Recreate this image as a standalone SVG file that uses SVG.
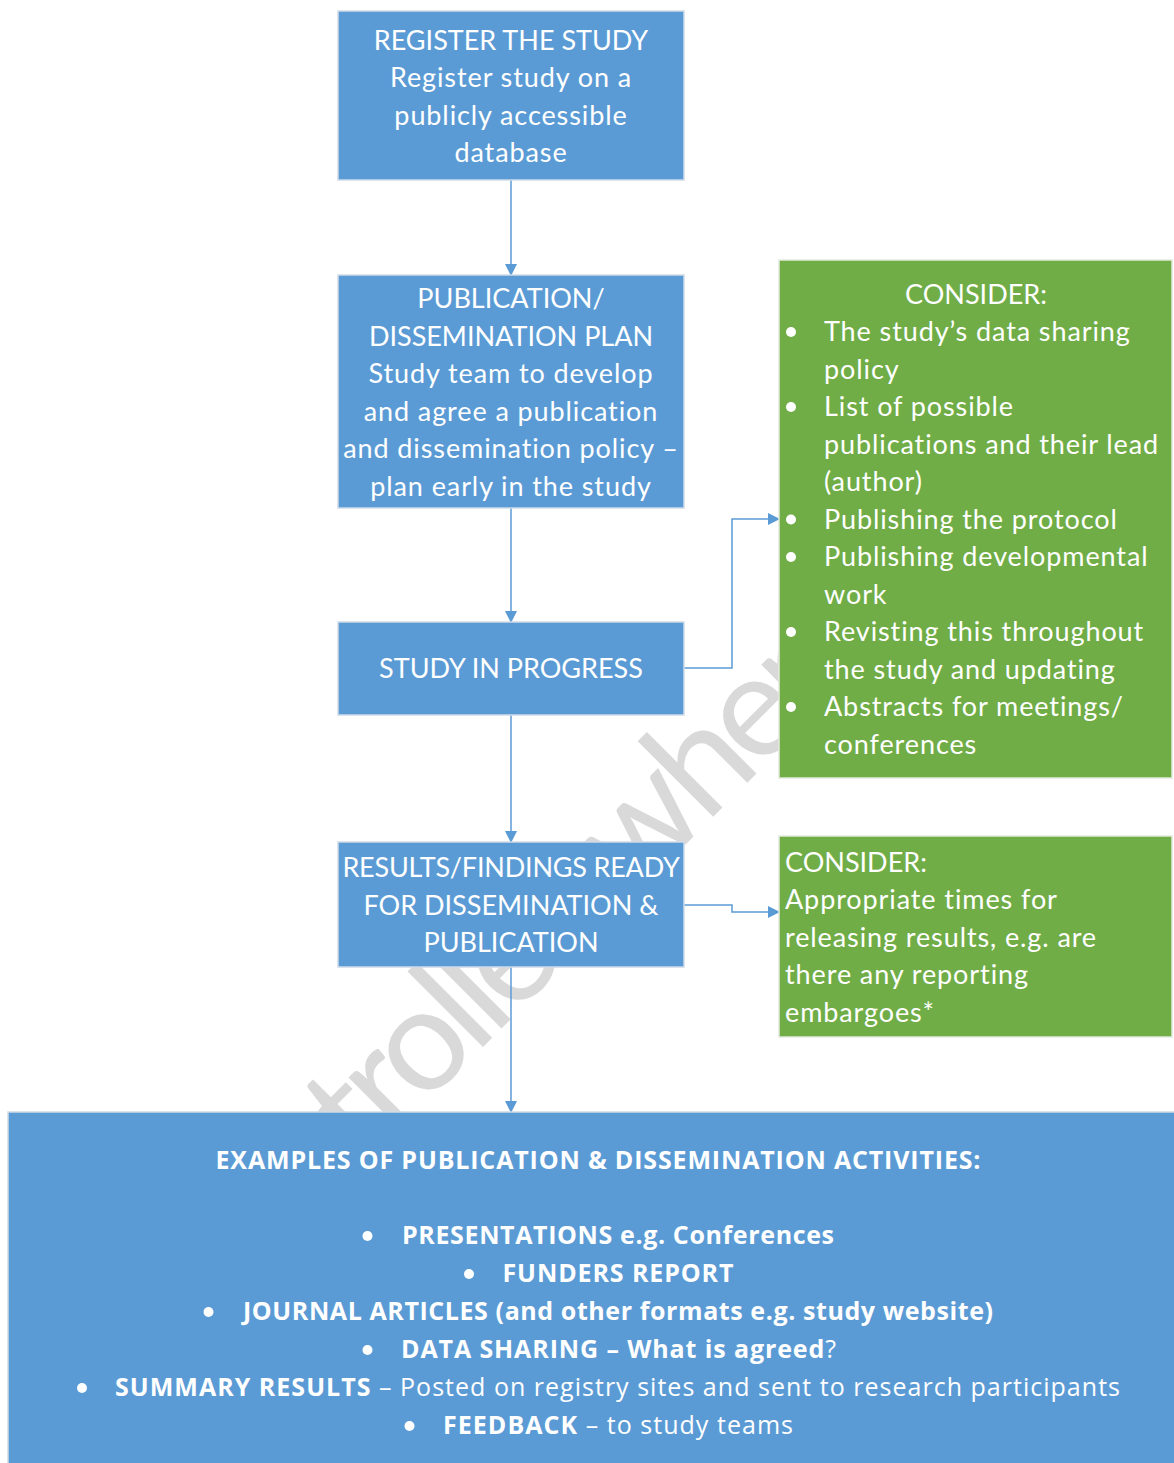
<svg xmlns="http://www.w3.org/2000/svg" width="1174" height="1463" viewBox="0 0 1174 1463">
<defs>
<marker id="arr" markerWidth="12" markerHeight="12" refX="11" refY="6" orient="auto" markerUnits="userSpaceOnUse">
<path d="M0,0 L12,6 L0,12 Z" fill="#5B9BD5"/>
</marker>
<style>
.blue{fill:#5B9BD5;stroke:#cfdbe8;stroke-width:1.5}
.green{fill:#70AD47;stroke:#e2eadb;stroke-width:1.5}
.t{font-family:Lato,"Open Sans","Liberation Sans",sans-serif;font-size:27px;fill:#ffffff}
.ls{letter-spacing:0.9px}
.c{text-anchor:middle}
.b{font-family:"Open Sans",Lato,"Liberation Sans",sans-serif;font-size:25px;fill:#ffffff;font-weight:bold}
.r{font-weight:normal}
.wm{font-family:Lato,"Open Sans","Liberation Sans",sans-serif;font-size:145px;letter-spacing:-8px;fill:#d9d9d9}
.con{fill:none;stroke:#5B9BD5;stroke-width:1.5}
</style>
</defs>
<rect width="1174" height="1463" fill="#ffffff"/>
<g id="watermark">
<text class="wm" transform="translate(765,765) rotate(-45)" x="-945" y="0">Uncontrolled when</text>
</g>
<g id="connectors">
<path class="con" d="M511,180 V275" marker-end="url(#arr)"/>
<path class="con" d="M511,508 V622" marker-end="url(#arr)"/>
<path class="con" d="M511,715 V842" marker-end="url(#arr)"/>
<path class="con" d="M511,967 V1112" marker-end="url(#arr)"/>
<path class="con" d="M684,668 H732 V519 H779" marker-end="url(#arr)"/>
<path class="con" d="M684,905 H732 V912 H779" marker-end="url(#arr)"/>
</g>
<g id="register">
<rect class="blue" x="338" y="11" width="346" height="169"/>
<text class="t c" x="511" y="49.5">REGISTER THE STUDY</text>
<text class="t c ls" x="511" y="87">Register study on a</text>
<text class="t c ls" x="511" y="124.5">publicly accessible</text>
<text class="t c ls" x="511" y="162">database</text>
</g>
<g id="plan">
<rect class="blue" x="338" y="275" width="346" height="233"/>
<text class="t c" x="511" y="308">PUBLICATION/</text>
<text class="t c" x="511" y="345.5">DISSEMINATION PLAN</text>
<text class="t c ls" x="511" y="383">Study team to develop</text>
<text class="t c ls" x="511" y="420.5">and agree a publication</text>
<text class="t c ls" x="511" y="458">and dissemination policy –</text>
<text class="t c ls" x="511" y="495.5">plan early in the study</text>
</g>
<g id="progress">
<rect class="blue" x="338" y="622" width="346" height="93"/>
<text class="t c" x="511" y="678">STUDY IN PROGRESS</text>
</g>
<g id="results">
<rect class="blue" x="338" y="842" width="346" height="125"/>
<text class="t c" x="511" y="877" letter-spacing="-0.2">RESULTS/FINDINGS READY</text>
<text class="t c" x="511" y="914.5">FOR DISSEMINATION &amp;</text>
<text class="t c" x="511" y="952">PUBLICATION</text>
</g>
<g id="consider1">
<rect class="green" x="779" y="260" width="393" height="518"/>
<text class="t c" x="976" y="304">CONSIDER:</text>
<g fill="#ffffff">
<circle cx="791" cy="332" r="5"/>
<circle cx="791" cy="407" r="5"/>
<circle cx="791" cy="519.5" r="5"/>
<circle cx="791" cy="557" r="5"/>
<circle cx="791" cy="632" r="5"/>
<circle cx="791" cy="707" r="5"/>
</g>
<text class="t ls" x="824" y="341">The study’s data sharing</text>
<text class="t ls" x="824" y="378.5">policy</text>
<text class="t ls" x="824" y="416">List of possible</text>
<text class="t ls" x="824" y="453.5">publications and their lead</text>
<text class="t ls" x="824" y="491">(author)</text>
<text class="t ls" x="824" y="528.5">Publishing the protocol</text>
<text class="t ls" x="824" y="566">Publishing developmental</text>
<text class="t ls" x="824" y="603.5">work</text>
<text class="t ls" x="824" y="641">Revisting this throughout</text>
<text class="t ls" x="824" y="678.5">the study and updating</text>
<text class="t ls" x="824" y="716">Abstracts for meetings/</text>
<text class="t ls" x="824" y="753.5">conferences</text>
</g>
<g id="consider2">
<rect class="green" x="779" y="836" width="393" height="201"/>
<text class="t" x="785" y="871.5">CONSIDER:</text>
<text class="t ls" x="785" y="909">Appropriate times for</text>
<text class="t ls" x="785" y="946.5">releasing results, e.g. are</text>
<text class="t ls" x="785" y="984">there any reporting</text>
<text class="t ls" x="785" y="1021.5">embargoes*</text>
</g>
<g id="examples">
<rect class="blue" x="8" y="1112" width="1180" height="360"/>
<text class="b c" x="598" y="1169" textLength="765" lengthAdjust="spacing">EXAMPLES OF PUBLICATION &amp; DISSEMINATION ACTIVITIES:</text>
<g fill="#ffffff">
<circle cx="367.5" cy="1236" r="5"/>
<circle cx="469" cy="1274" r="5"/>
<circle cx="208.5" cy="1312" r="5"/>
<circle cx="367.5" cy="1350" r="5"/>
<circle cx="82" cy="1388" r="5"/>
<circle cx="409.5" cy="1426" r="5"/>
</g>
<text class="b" x="402" y="1244" textLength="432" lengthAdjust="spacing">PRESENTATIONS e.g. Conferences</text>
<text class="b" x="502.5" y="1282" textLength="231" lengthAdjust="spacing">FUNDERS REPORT</text>
<text class="b" x="243" y="1320" textLength="750" lengthAdjust="spacing">JOURNAL ARTICLES (and other formats e.g. study website)</text>
<text class="b" x="401" y="1358" textLength="435" lengthAdjust="spacing">DATA SHARING – What is agreed<tspan class="r">?</tspan></text>
<text class="b" x="115" y="1396" textLength="1005" lengthAdjust="spacing">SUMMARY RESULTS <tspan class="r">– Posted on registry sites and sent to research participants</tspan></text>
<text class="b" x="443" y="1434" textLength="350" lengthAdjust="spacing">FEEDBACK <tspan class="r">– to study teams</tspan></text>
</g>
</svg>
